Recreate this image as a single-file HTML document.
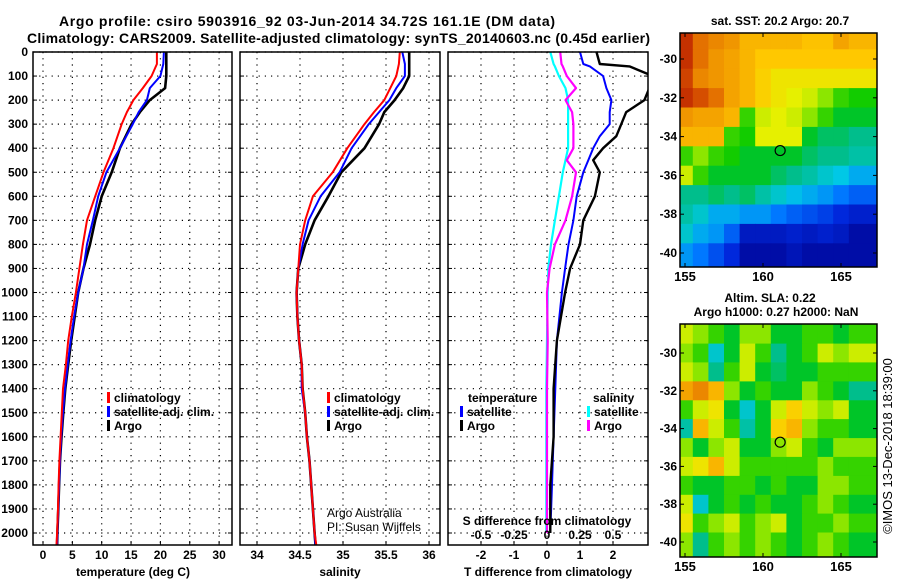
<!DOCTYPE html>
<html><head><meta charset="utf-8"><style>
body{margin:0;background:#fff;}
svg{display:block;font-family:"Liberation Sans",sans-serif;}
.b{font-weight:bold;}
</style></head><body>
<svg id="s" width="900" height="580" viewBox="0 0 900 580">
<defs>
<clipPath id="c1"><rect x="33" y="52" width="199" height="493"/></clipPath>
<clipPath id="c2"><rect x="240" y="52" width="200" height="493"/></clipPath>
<clipPath id="c3"><rect x="448" y="52" width="200" height="493"/></clipPath>
<clipPath id="m1"><rect x="680" y="33" width="197" height="234"/></clipPath>
<clipPath id="m2"><rect x="680" y="324" width="197" height="233"/></clipPath>
</defs>
<text class="b" x="59" y="26" font-size="14" textLength="496">Argo profile: csiro 5903916_92 03-Jun-2014 34.72S 161.1E (DM data)</text>
<text class="b" x="27" y="43" font-size="14" textLength="623">Climatology: CARS2009. Satellite-adjusted climatology: synTS_20140603.nc (0.45d earlier)</text>
<g id="g"></g>
</svg>
<script>
// ---- profile data ----
const depthT = [0,50,100,150,200,250,300,400,500,600,700,800,900,1000,1100,1200,1300,1400,1500,1600,1700,1800,1900,2000,2050];
const tempArgo = [21,21,21,20.8,18.2,16.5,15.1,13.1,11.7,10,8.9,8.0,6.9,6.0,5.4,4.8,4.3,3.8,3.45,3.15,2.9,2.75,2.6,2.45,2.4];
const tempSat  = [20.6,20.5,20.0,18.2,17.7,16.3,15.3,13.1,10.8,9.4,8.5,7.5,6.9,6.0,5.3,4.7,4.2,3.75,3.4,3.1,2.9,2.75,2.6,2.45,2.4];
const tempClim = [19.4,19.4,18.5,17.0,15.4,14.3,13.4,12.0,10.3,8.9,7.5,6.8,6.2,5.6,4.9,4.3,3.9,3.4,3.2,3.0,2.8,2.65,2.55,2.4,2.3];
const salArgo = [35.77,35.77,35.77,35.70,35.60,35.48,35.42,35.25,34.98,34.83,34.67,34.56,34.48,34.46,34.47,34.49,34.52,34.53,34.56,34.58,34.61,34.63,34.65,34.67,34.68];
const salSat  = [35.69,35.72,35.72,35.62,35.54,35.42,35.30,35.10,34.96,34.74,34.60,34.53,34.48,34.46,34.47,34.49,34.52,34.52,34.56,34.58,34.61,34.63,34.65,34.67,34.68];
const salClim = [35.66,35.65,35.62,35.55,35.48,35.36,35.25,35.05,34.88,34.65,34.56,34.50,34.48,34.46,34.47,34.49,34.52,34.53,34.56,34.58,34.61,34.63,34.65,34.67,34.69];
const depthD = [0,50,60,100,150,200,250,300,350,400,450,500,600,700,800,900,1000,1200,1400,1600,1800,2000];
const dTArgo = [1.5,1.6,2.5,3.2,3.1,2.95,2.4,2.25,2.1,1.7,1.4,1.6,1.45,1.1,1.0,0.7,0.55,0.3,0.2,0.2,0.1,0.1];
const dTSat  = [1.0,1.1,1.3,1.7,1.8,1.95,1.9,1.9,1.6,1.4,1.25,1.1,0.9,0.8,0.65,0.55,0.45,0.3,0.25,0.2,0.15,0.1];
const dSSat  = [0.025,0.05,0.06,0.09,0.14,0.16,0.16,0.16,0.16,0.16,0.14,0.12,0.09,0.06,0.03,0.01,0.005,0,-0.005,-0.005,-0.005,-0.005];
const dSArgo = [0.1,0.11,0.12,0.15,0.22,0.14,0.19,0.2,0.2,0.2,0.15,0.22,0.19,0.14,0.06,0.02,0,0.005,0,0,0,0];
const depthTicks = [0,100,200,300,400,500,600,700,800,900,1000,1100,1200,1300,1400,1500,1600,1700,1800,1900,2000];
const tempTicks = [0,5,10,15,20,25,30];
const salTicks = [34,34.5,35,35.5,36];
const salTickLabels = ["34","34.5","35","35.5","36"];
const dTTicks = [-2,-1,0,1,2];
const dSTicks = [-0.5,-0.25,0,0.25,0.5];
const dSTickLabels = ["-0.5","-0.25","0","0.25","0.5"];
// ---- maps (colour index 0..1), rows lat -29..-40, cols lon 155..166 ----
const mapLons = [155,156,157,158,159,160,161,162,163,164,165,166];
const mapLats = [-29,-30,-31,-32,-33,-34,-35,-36,-37,-38,-39,-40];
const sstGrid = [
[.95,.85,.82,.8,.75,.75,.75,.75,.73,.73,.78,.75],
[.95,.85,.8,.78,.75,.72,.72,.72,.72,.72,.72,.72],
[.92,.82,.8,.78,.75,.7,.65,.65,.65,.65,.65,.65],
[.95,.9,.85,.78,.75,.7,.65,.62,.6,.55,.5,.48],
[.8,.78,.78,.75,.5,.6,.62,.6,.55,.5,.45,.45],
[.75,.75,.75,.5,.48,.62,.62,.62,.45,.42,.42,.4],
[.5,.55,.5,.48,.45,.45,.45,.45,.42,.4,.4,.38],
[.6,.5,.45,.45,.45,.45,.42,.4,.38,.35,.33,.3],
[.4,.4,.42,.4,.42,.38,.35,.32,.3,.28,.25,.22],
[.38,.35,.3,.3,.28,.28,.25,.22,.2,.18,.15,.12],
[.35,.3,.28,.22,.1,.1,.1,.12,.1,.12,.1,.05],
[.28,.25,.2,.15,.05,.05,.05,.08,.05,.05,.05,.05]];
const slaGrid = [
[.6,.55,.5,.45,.55,.55,.45,.45,.5,.5,.45,.5],
[.55,.5,.35,.45,.6,.5,.4,.45,.5,.6,.55,.6],
[.6,.55,.4,.5,.6,.45,.42,.45,.45,.5,.5,.5],
[.78,.82,.75,.55,.45,.5,.45,.45,.55,.5,.45,.4],
[.5,.6,.65,.45,.35,.45,.6,.7,.6,.55,.6,.45],
[.38,.75,.6,.5,.38,.45,.7,.75,.55,.5,.5,.45],
[.55,.45,.55,.6,.45,.45,.55,.6,.5,.45,.55,.55],
[.6,.65,.75,.6,.5,.5,.5,.5,.5,.55,.5,.5],
[.5,.45,.45,.5,.5,.45,.5,.45,.45,.55,.55,.5],
[.6,.35,.45,.5,.45,.5,.45,.45,.5,.55,.5,.45],
[.65,.5,.55,.6,.5,.55,.6,.45,.5,.5,.55,.5],
[.55,.4,.5,.55,.5,.55,.5,.45,.5,.55,.5,.45]];
const lonTicks = [155,160,165];
const latTicks = [-30,-32,-34,-36,-38,-40];
const floatLon = 161.1, floatLat = -34.72;

const NS='http://www.w3.org/2000/svg';
const G=document.getElementById('g');
function mk(tag,attrs,parent){const e=document.createElementNS(NS,tag);for(const k in attrs)e.setAttribute(k,attrs[k]);(parent||G).appendChild(e);return e;}
const yD = d => 52 + d*0.2405;
const xT = t => 43 + t*5.87;
const xS = s => 300 + (s-34.5)*86;
const xdT = t => 547 + t*33;
const xdS = s => 547 + s*132;
const mx = lon => 685 + (lon-155)*15.6;
const my1 = lat => 59 + (-30-lat)*19.4;
const my2 = lat => 353 + (-30-lat)*18.9;

function frame(x0,x1,name){
  const r=mk('rect',{x:x0,y:52,width:x1-x0,height:493,fill:'none',stroke:'#000','stroke-width':1.5});
  
  
}
function hgrid(x0,x1){
  depthTicks.forEach(d=>{const l=mk('line',{x1:x0,x2:x1,y1:yD(d),y2:yD(d),stroke:'#000','stroke-dasharray':'1.2 5','stroke-width':1.2});
    
    mk('line',{x1:x0,x2:x0+4,y1:yD(d),y2:yD(d),stroke:'#000'});mk('line',{x1:x1-4,x2:x1,y1:yD(d),y2:yD(d),stroke:'#000'});});
}
function vgrid(vals,fx){
  vals.forEach(v=>{const l=mk('line',{x1:fx(v),x2:fx(v),y1:52,y2:545,stroke:'#000','stroke-dasharray':'1.2 5','stroke-width':1.2});
    
    mk('line',{x1:fx(v),x2:fx(v),y1:541,y2:545,stroke:'#000'});});
}
function line(xs,ds,fx,color,w,clip,name){
  const pts=xs.map((v,i)=>fx(v).toFixed(1)+','+yD(ds[i]).toFixed(1)).join(' ');
  const p=mk('polyline',{points:pts,fill:'none',stroke:color,'stroke-width':w,'clip-path':'url(#'+clip+')','stroke-linejoin':'round'});
  
  
}
function txt(x,y,s,opt){const t=mk('text',Object.assign({x:x,y:y,'font-size':12},opt||{}));t.textContent=s;return t;}
function legendItem(xb,y,color,label,name){
  const r=mk('rect',{x:xb,y:y-10,width:3,height:11,fill:color});
  
  const t=txt(xb+7,y,label,{class:'b'});
  
}

// Panel 1 temperature
hgrid(33,232); vgrid(tempTicks,xT);
depthTicks.forEach(d=>{const t=txt(28,yD(d)+4,String(d),{class:'b','text-anchor':'end'});});
tempTicks.forEach(v=>{const t=txt(xT(v),559,String(v),{class:'b','text-anchor':'middle'});});
line(tempArgo,depthT,xT,'#000',2.6,'c1','temp-argo-line');
line(tempSat,depthT,xT,'#00f',2,'c1','temp-satellite-line');
line(tempClim,depthT,xT,'#f00',2,'c1','temp-climatology-line');
frame(33,232,'temperature-panel');
{const t=txt(133,576,'temperature (deg C)',{class:'b','text-anchor':'middle'});}
legendItem(107,402,'#f00','climatology','legend-climatology');
legendItem(107,416,'#00f','satellite-adj. clim.','legend-satellite-adj');
legendItem(107,430,'#000','Argo','legend-argo');

// Panel 2 salinity
hgrid(240,440); vgrid(salTicks,xS);
salTicks.forEach((v,i)=>{const t=txt(xS(v),559,salTickLabels[i],{class:'b','text-anchor':'middle'});});
line(salArgo,depthT,xS,'#000',2.6,'c2','sal-argo-line');
line(salSat,depthT,xS,'#00f',2,'c2','sal-satellite-line');
line(salClim,depthT,xS,'#f00',2,'c2','sal-climatology-line');
frame(240,440,'salinity-panel');
{const t=txt(340,576,'salinity',{class:'b','text-anchor':'middle'});}
legendItem(327,402,'#f00','climatology','legend-climatology-2');
legendItem(327,416,'#00f','satellite-adj. clim.','legend-satellite-adj-2');
legendItem(327,430,'#000','Argo','legend-argo-2');
{const t=txt(327,517,'Argo Australia');
 const u=txt(327,531,'PI: Susan Wijffels');}

// Panel 3 differences
hgrid(448,648); vgrid(dTTicks,xdT);
dTTicks.forEach(v=>{const t=txt(xdT(v),559,String(v),{class:'b','text-anchor':'middle'});});
line(dSSat,depthD,xdS,'#0ff',2.2,'c3','s-diff-satellite-line');
line(dSArgo,depthD,xdS,'#f0f',2.2,'c3','s-diff-argo-line');
line(dTSat,depthD,xdT,'#00f',2,'c3','t-diff-satellite-line');
line(dTArgo,depthD,xdT,'#000',2.4,'c3','t-diff-argo-line');
frame(448,648,'difference-panel');
{const t=txt(548,576,'T difference from climatology',{class:'b','text-anchor':'middle'});}
{const t=txt(547,525,'S difference from climatology',{class:'b','text-anchor':'middle'});}
dSTicks.forEach((v,i)=>{const t=txt(xdS(v),539,dSTickLabels[i],{class:'b','text-anchor':'middle'});});
{const t=txt(468,402,'temperature',{class:'b'});
 const u=txt(593,402,'salinity',{class:'b'});}
legendItem(460,416,'#00f','satellite','legend-t-satellite');
legendItem(460,430,'#000','Argo','legend-t-argo');
legendItem(587,416,'#0ff','satellite','legend-s-satellite');
legendItem(587,430,'#f0f','Argo','legend-s-argo');

// Maps
const cmapStops=[[0,0,0,140],[0.15,0,40,220],[0.25,0,120,255],[0.33,0,200,230],[0.4,0,190,140],[0.47,0,200,0],[0.55,140,230,0],[0.62,230,240,0],[0.72,255,200,0],[0.8,240,150,0],[0.88,220,90,0],[1,180,20,0]];
function cmap(v){
  for(let i=1;i<cmapStops.length;i++){
    const a=cmapStops[i-1],b=cmapStops[i];
    if(v<=b[0]){const f=(v-a[0])/(b[0]-a[0]);
      return 'rgb('+[1,2,3].map(k=>Math.round(a[k]+(b[k]-a[k])*f)).join(',')+')';}
  }
  return 'rgb(180,20,0)';
}
function drawMap(grid,fy,clip,x0,y0,y1,name){
  const cg=mk('g',{'clip-path':'url(#'+clip+')'});
  
  const nr=grid.length;
  grid.forEach((row,i)=>row.forEach((v,j)=>{
    let xa=mx(mapLons[j]-0.5), xb=mx(mapLons[j]+0.5);
    let ya=fy(mapLats[i]+0.5), yb=fy(mapLats[i]-0.5);
    if(j===0) xa=680; if(j===row.length-1) xb=878;
    if(i===0) ya=y0; if(i===nr-1) yb=y1+1;
    const c=mk('rect',{x:xa.toFixed(1),y:ya.toFixed(1),width:(xb-xa+0.5).toFixed(1),height:(yb-ya+0.5).toFixed(1),fill:cmap(v)},cg);
    
    
  }));
  const f=mk('rect',{x:680,y:y0,width:197,height:y1-y0,fill:'none',stroke:'#000','stroke-width':1.5});
  
  const c=mk('circle',{cx:mx(floatLon),cy:fy(floatLat),r:5,fill:'none',stroke:'#000','stroke-width':1.2});
  
  lonTicks.forEach(l=>{mk('line',{x1:mx(l),x2:mx(l),y1:y1,y2:y1-4,stroke:'#000'});mk('line',{x1:mx(l),x2:mx(l),y1:y0,y2:y0+4,stroke:'#000'});
    const t=txt(mx(l),y1+14,String(l),{class:'b','text-anchor':'middle','font-size':13});});
  latTicks.forEach(l=>{mk('line',{x1:680,x2:684,y1:fy(l),y2:fy(l),stroke:'#000'});mk('line',{x1:877,x2:873,y1:fy(l),y2:fy(l),stroke:'#000'});
    const t=txt(677,fy(l)+4,String(l),{class:'b','text-anchor':'end'});});
}
drawMap(sstGrid,my1,'m1',680,33,267,'sst-map');
drawMap(slaGrid,my2,'m2',680,324,557,'sla-map');
{const t=txt(780,25,'sat. SST: 20.2 Argo: 20.7',{class:'b','text-anchor':'middle'});
 const a=txt(770,302,'Altim. SLA: 0.22',{class:'b','text-anchor':'middle'});
 const b=txt(776,316,'Argo h1000: 0.27 h2000: NaN',{class:'b','text-anchor':'middle'});
 const c=txt(0,0,'©IMOS 13-Dec-2018 18:39:00',{'text-anchor':'middle','font-size':13,transform:'translate(892,446) rotate(-90)'});}
</script>
</body></html>
